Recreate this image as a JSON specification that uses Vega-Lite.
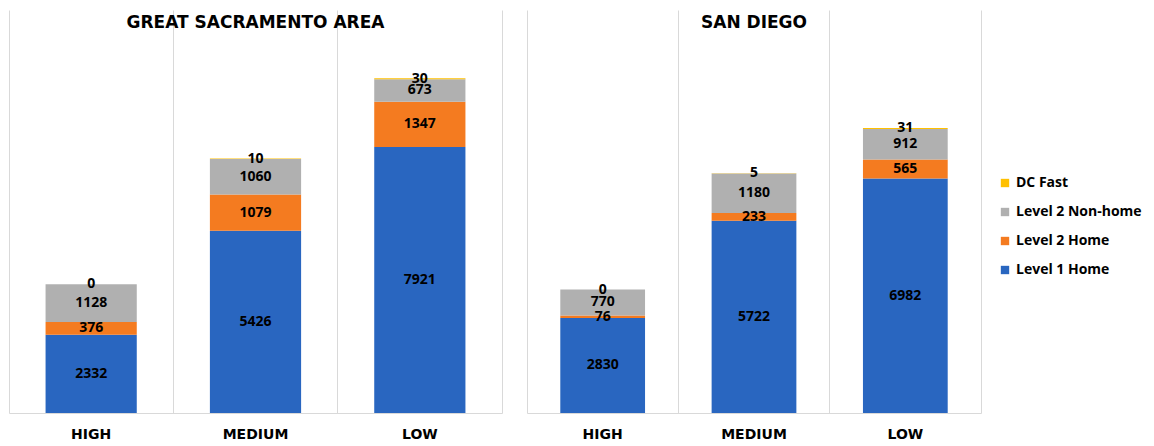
{
  "$schema": "https://vega.github.io/schema/vega-lite/v6.json",
  "padding": {"left": 9, "top": 10, "right": 0, "bottom": 0},
  "background": "white",
  "datasets": {
    "charging": [
      {"region": "GREAT SACRAMENTO AREA", "scenario": "HIGH", "type": "Level 1 Home", "count": 2332},
      {"region": "GREAT SACRAMENTO AREA", "scenario": "HIGH", "type": "Level 2 Home", "count": 376},
      {"region": "GREAT SACRAMENTO AREA", "scenario": "HIGH", "type": "Level 2 Non-home", "count": 1128},
      {"region": "GREAT SACRAMENTO AREA", "scenario": "HIGH", "type": "DC Fast", "count": 0},
      {"region": "GREAT SACRAMENTO AREA", "scenario": "MEDIUM", "type": "Level 1 Home", "count": 5426},
      {"region": "GREAT SACRAMENTO AREA", "scenario": "MEDIUM", "type": "Level 2 Home", "count": 1079},
      {"region": "GREAT SACRAMENTO AREA", "scenario": "MEDIUM", "type": "Level 2 Non-home", "count": 1060},
      {"region": "GREAT SACRAMENTO AREA", "scenario": "MEDIUM", "type": "DC Fast", "count": 10},
      {"region": "GREAT SACRAMENTO AREA", "scenario": "LOW", "type": "Level 1 Home", "count": 7921},
      {"region": "GREAT SACRAMENTO AREA", "scenario": "LOW", "type": "Level 2 Home", "count": 1347},
      {"region": "GREAT SACRAMENTO AREA", "scenario": "LOW", "type": "Level 2 Non-home", "count": 673},
      {"region": "GREAT SACRAMENTO AREA", "scenario": "LOW", "type": "DC Fast", "count": 30},
      {"region": "SAN DIEGO", "scenario": "HIGH", "type": "Level 1 Home", "count": 2830},
      {"region": "SAN DIEGO", "scenario": "HIGH", "type": "Level 2 Home", "count": 76},
      {"region": "SAN DIEGO", "scenario": "HIGH", "type": "Level 2 Non-home", "count": 770},
      {"region": "SAN DIEGO", "scenario": "HIGH", "type": "DC Fast", "count": 0},
      {"region": "SAN DIEGO", "scenario": "MEDIUM", "type": "Level 1 Home", "count": 5722},
      {"region": "SAN DIEGO", "scenario": "MEDIUM", "type": "Level 2 Home", "count": 233},
      {"region": "SAN DIEGO", "scenario": "MEDIUM", "type": "Level 2 Non-home", "count": 1180},
      {"region": "SAN DIEGO", "scenario": "MEDIUM", "type": "DC Fast", "count": 5},
      {"region": "SAN DIEGO", "scenario": "LOW", "type": "Level 1 Home", "count": 6982},
      {"region": "SAN DIEGO", "scenario": "LOW", "type": "Level 2 Home", "count": 565},
      {"region": "SAN DIEGO", "scenario": "LOW", "type": "Level 2 Non-home", "count": 912},
      {"region": "SAN DIEGO", "scenario": "LOW", "type": "DC Fast", "count": 31}
    ]
  },
  "data": {"name": "charging"},
  "transform": [
    {"calculate": "indexof(['Level 1 Home','Level 2 Home','Level 2 Non-home','DC Fast'], datum.type)", "as": "stackOrder"},
    {"stack": "count", "groupby": ["region", "scenario"], "sort": [{"field": "stackOrder", "order": "ascending"}], "as": ["c0", "c1"]},
    {"calculate": "(datum.c0 + datum.c1) / 2", "as": "labelPos"}
  ],
  "spacing": 25,
  "hconcat": [
    {
      "title": "GREAT SACRAMENTO AREA",
      "width": 493,
      "height": 403,
      "transform": [{"filter": "datum.region === 'GREAT SACRAMENTO AREA'"}],
      "encoding": {
        "x": {"field": "scenario", "type": "nominal", "sort": ["HIGH", "MEDIUM", "LOW"],
              "scale": {"paddingInner": 0, "paddingOuter": 0}}
      },
      "layer": [
        {
          "mark": {"type": "bar", "width": {"band": 0.555}},
          "encoding": {
            "y": {"field": "c0", "type": "quantitative", "scale": {"domain": [0, 12000]}},
            "y2": {"field": "c1"},
            "color": {"field": "type", "type": "nominal",
                      "scale": {"domain": ["DC Fast", "Level 2 Non-home", "Level 2 Home", "Level 1 Home"],
                                "range": ["#FFC000", "#B0B0B0", "#F47B20", "#2966C0"]},
                      "legend": {"title": null, "orient": "none", "legendX": 989, "legendY": 166}}
          }
        },
        {
          "mark": {"type": "text", "font": "Open Sans", "fontWeight": "bold", "fontSize": 14, "color": "black", "baseline": "middle"},
          "encoding": {
            "y": {"field": "labelPos", "type": "quantitative"},
            "text": {"field": "count", "type": "quantitative"}
          }
        }
      ]
    },
    {
      "title": "SAN DIEGO",
      "width": 454,
      "height": 403,
      "transform": [{"filter": "datum.region === 'SAN DIEGO'"}],
      "encoding": {
        "x": {"field": "scenario", "type": "nominal", "sort": ["HIGH", "MEDIUM", "LOW"],
              "scale": {"paddingInner": 0, "paddingOuter": 0}}
      },
      "layer": [
        {
          "mark": {"type": "bar", "width": {"band": 0.56}},
          "encoding": {
            "y": {"field": "c0", "type": "quantitative", "scale": {"domain": [0, 12000]}},
            "y2": {"field": "c1"},
            "color": {"field": "type", "type": "nominal",
                      "scale": {"domain": ["DC Fast", "Level 2 Non-home", "Level 2 Home", "Level 1 Home"],
                                "range": ["#FFC000", "#B0B0B0", "#F47B20", "#2966C0"]},
                      "legend": {"title": null, "orient": "none", "legendX": 989, "legendY": 166}}
          }
        },
        {
          "mark": {"type": "text", "font": "Open Sans", "fontWeight": "bold", "fontSize": 14, "color": "black", "baseline": "middle"},
          "encoding": {
            "y": {"field": "labelPos", "type": "quantitative"},
            "text": {"field": "count", "type": "quantitative"}
          }
        }
      ]
    }
  ],
  "config": {
    "view": {"stroke": null},
    "title": {"font": "DejaVu Sans", "fontSize": 17, "fontWeight": "bold", "color": "black", "anchor": "middle", "baseline": "top", "offset": -22},
    "axisX": {"title": null, "labelAngle": 0, "ticks": false, "grid": true, "gridColor": "#D9D9D9", "domainColor": "#D9D9D9",
              "bandPosition": 0, "labelFont": "DejaVu Sans", "labelFontWeight": "bold", "labelFontSize": 14, "labelColor": "black", "labelPadding": 14},
    "axisY": {"orient": "right", "title": null, "labels": false, "ticks": false, "grid": false, "domainColor": "#D9D9D9"},
    "legend": {"symbolType": "square", "symbolSize": 70, "labelFont": "Open Sans", "labelFontWeight": "bold", "labelFontSize": 14,
               "labelColor": "black", "rowPadding": 15, "symbolStrokeWidth": 0}
  }
}
